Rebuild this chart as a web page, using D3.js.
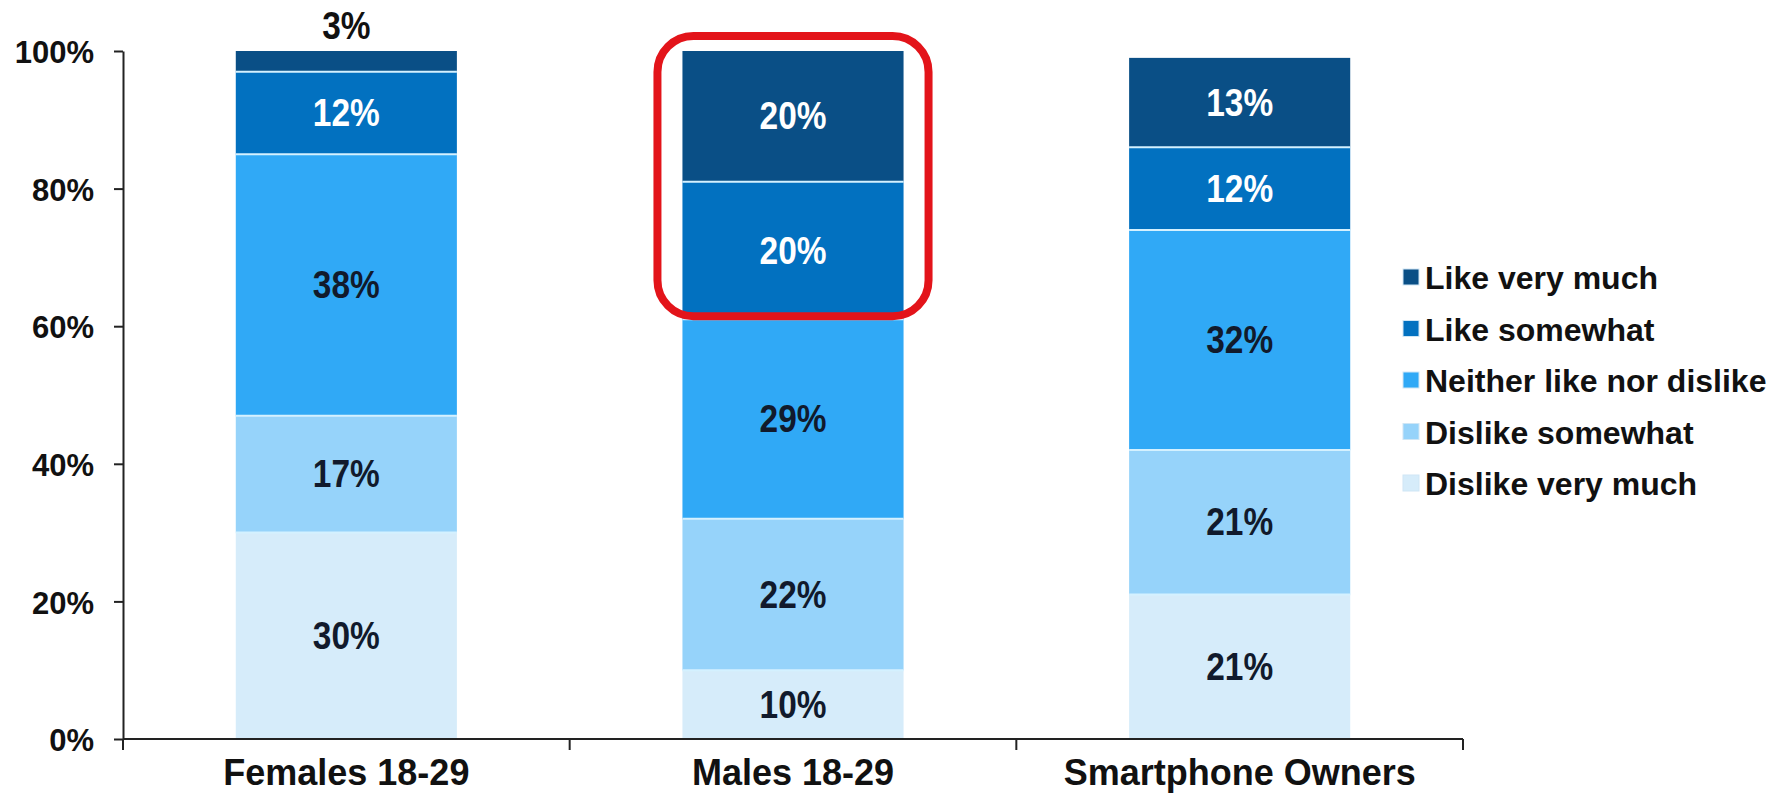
<!DOCTYPE html>
<html>
<head>
<meta charset="utf-8">
<script src="https://cdn.jsdelivr.net/npm/d3@7"></script>
<style>
  html, body { margin: 0; padding: 0; background: #ffffff; }
  svg { display: block; }
  text { font-family: "Liberation Sans", Arial, sans-serif; font-weight: bold; }
</style>
</head>
<body>
<svg id="chart" width="1783" height="794"></svg>
<script>
// Survey groups shown on the x axis
const categories = ["Females 18-29", "Males 18-29", "Smartphone Owners"];

// Response shares (%) per group, bottom of the stack first
const seriesNames = ["Dislike very much", "Dislike somewhat", "Neither like nor dislike", "Like somewhat", "Like very much"];
const dislikeVeryMuch = [30, 10, 21];
const dislikeSomewhat = [17, 22, 21];
const neitherLikeNorDislike = [38, 29, 32];
const likeSomewhat = [12, 20, 12];
const likeVeryMuch = [3, 20, 13];

const yTicks = [0, 20, 40, 60, 80, 100];

// Group whose top two answers get the red highlight frame
const highlightCategory = "Males 18-29";
const highlightSeries = ["Like somewhat", "Like very much"];

const seriesValues = [dislikeVeryMuch, dislikeSomewhat, neitherLikeNorDislike, likeSomewhat, likeVeryMuch];
const colors = ["#d6ecfa", "#96d3fa", "#30a9f6", "#0271c0", "#0a4f86"];
const labelColors = ["#111a2c", "#111a2c", "#111a2c", "#ffffff", "#ffffff"];

// Row table for d3.stack
const rows = categories.map((c, i) => {
  const r = { category: c };
  seriesNames.forEach((s, k) => { r[s] = seriesValues[k][i]; });
  return r;
});
const stacked = d3.stack().keys(seriesNames)(rows);

const svg = d3.select("#chart");

const x = d3.scaleBand().domain(categories).range([123, 1463]).padding(0);
const barW = x.bandwidth() * 0.495;
const barX = c => x(c) + (x.bandwidth() - barW) / 2;
const y = d3.scaleLinear().domain([0, 100]).range([739, 51]);

// Plot area clip (segments above 100% are cut at the axis maximum)
svg.append("defs").append("clipPath").attr("id", "plotClip")
  .append("rect")
  .attr("x", x.range()[0]).attr("y", y(100))
  .attr("width", x.range()[1] - x.range()[0]).attr("height", y(0) - y(100));

const plot = svg.append("g").attr("clip-path", "url(#plotClip)");

stacked.forEach((layer, k) => {
  plot.selectAll(null).data(layer).enter().append("rect")
    .attr("x", d => barX(d.data.category))
    .attr("y", d => y(d[1]))
    .attr("width", barW)
    .attr("height", d => y(d[0]) - y(d[1]))
    .attr("fill", colors[k]);
});

// Thin light separators between stacked segments
stacked.forEach((layer, k) => {
  if (k === 0) return;
  plot.selectAll(null).data(layer).enter().append("line")
    .attr("x1", d => barX(d.data.category))
    .attr("x2", d => barX(d.data.category) + barW)
    .attr("y1", d => y(d[0]))
    .attr("y2", d => y(d[0]))
    .attr("stroke", "#d4f1ff")
    .attr("stroke-width", 2);
});

// Value labels (narrowed glyphs)
function narrowLabel(parent, cx, baseline, txt, fill) {
  parent.append("g").attr("transform", `translate(${cx},${baseline})`)
    .append("text")
    .attr("transform", "scale(0.88,1)")
    .attr("text-anchor", "middle")
    .attr("font-size", 38)
    .attr("fill", fill)
    .text(txt);
}

const labels = svg.append("g");
stacked.forEach((layer, k) => {
  layer.forEach(d => {
    const v = d[1] - d[0];
    const cx = barX(d.data.category) + barW / 2;
    const top = Math.min(d[1], 100);
    if (v < 5) {
      narrowLabel(labels, cx, y(top) - 12, v + "%", "#111111");
    } else {
      const mid = (y(d[0]) + y(top)) / 2;
      narrowLabel(labels, cx, mid + 13, v + "%", labelColors[k]);
    }
  });
});

// Y axis
const yAxis = svg.append("g")
  .attr("transform", `translate(${x.range()[0]},0)`)
  .call(d3.axisLeft(y).tickValues(yTicks).tickSize(9).tickSizeOuter(0).tickPadding(20).tickFormat(d => d + "%"));
yAxis.select(".domain").attr("stroke", "#222").attr("stroke-width", 2);
yAxis.selectAll(".tick line").attr("stroke", "#222").attr("stroke-width", 2);
yAxis.selectAll(".tick text")
  .attr("font-size", 31).attr("fill", "#111").attr("dy", "0.38em")
  .attr("font-family", "\"Liberation Sans\", Arial, sans-serif").attr("font-weight", "bold");

// X axis: baseline, boundary ticks and group names
const xAxis = svg.append("g");
xAxis.append("line")
  .attr("x1", x.range()[0]).attr("x2", x.range()[1])
  .attr("y1", y(0)).attr("y2", y(0))
  .attr("stroke", "#222").attr("stroke-width", 2);
const bounds = categories.map(c => x(c)).concat([x.range()[1]]);
xAxis.selectAll(null).data(bounds).enter().append("line")
  .attr("x1", d => d).attr("x2", d => d)
  .attr("y1", y(0)).attr("y2", y(0) + 11)
  .attr("stroke", "#222").attr("stroke-width", 2);
xAxis.selectAll(null).data(categories).enter().append("text")
  .attr("x", d => x(d) + x.bandwidth() / 2)
  .attr("y", 785)
  .attr("text-anchor", "middle")
  .attr("font-size", 36)
  .attr("fill", "#111")
  .text(d => d);

// Legend, top answer first
const legend = svg.append("g");
const legendOrder = seriesNames.map((s, k) => ({ name: s, color: colors[k] })).reverse();
const legendRowY = d3.scalePoint().domain(legendOrder.map(d => d.name)).range([277, 483]);
legendOrder.forEach(d => {
  const cy = legendRowY(d.name);
  legend.append("rect")
    .attr("x", 1403).attr("y", cy - 8).attr("width", 16).attr("height", 16)
    .attr("fill", d.color).attr("stroke", "#cfe6f5").attr("stroke-width", 1);
  legend.append("text")
    .attr("x", 1425).attr("y", cy + 12)
    .attr("font-size", 32).attr("fill", "#111")
    .text(d.name);
});

// Red rounded frame around the highlighted segments
const hiLayers = stacked.filter(l => highlightSeries.includes(l.key));
const hiIndex = categories.indexOf(highlightCategory);
const hiBottom = d3.min(hiLayers, l => l[hiIndex][0]);
const hiTop = Math.min(100, d3.max(hiLayers, l => l[hiIndex][1]));
svg.append("rect")
  .attr("x", barX(highlightCategory) - 25)
  .attr("y", y(hiTop) - 15)
  .attr("width", barW + 50)
  .attr("height", y(hiBottom) - 3 - (y(hiTop) - 15))
  .attr("rx", 36).attr("ry", 36)
  .attr("fill", "none")
  .attr("stroke", "#e3141a")
  .attr("stroke-width", 8);
</script>
</body>
</html>
